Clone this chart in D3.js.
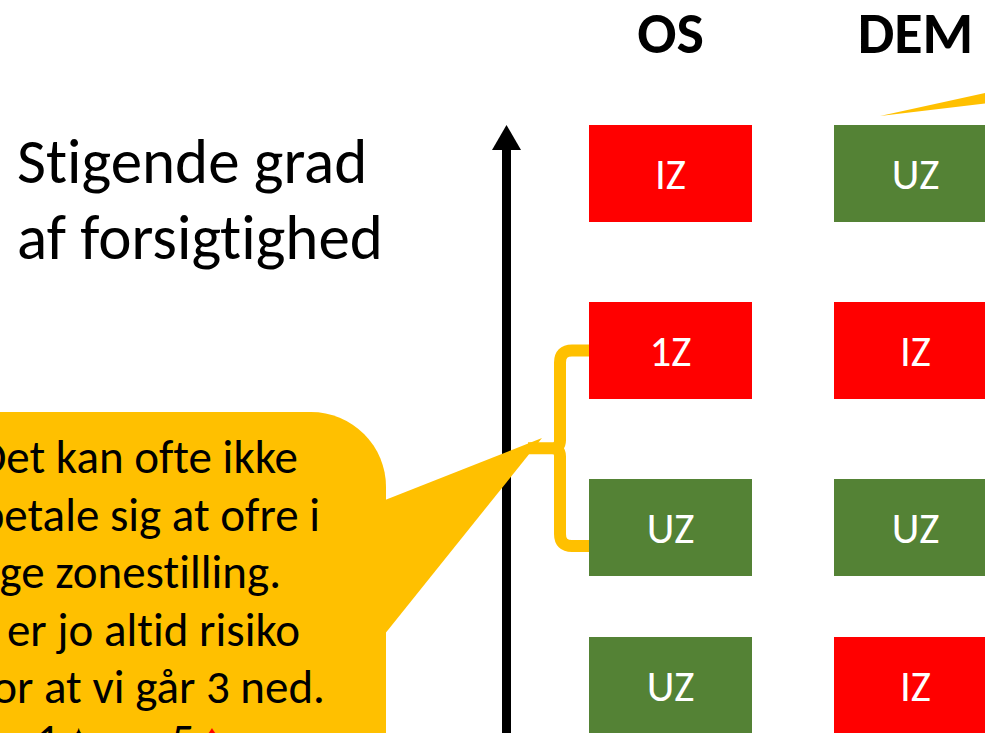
<!DOCTYPE html>
<html>
<head>
<meta charset="utf-8">
<script src="https://cdn.jsdelivr.net/npm/d3@7"></script>
<style>
  body { margin: 0; background: #fff; overflow: hidden; }
  svg { display: block; font-family: Carlito, Calibri, Lato, sans-serif; font-variant-ligatures: none; }
</style>
</head>
<body>
<div id="chart"></div>
<script>
// data
const columns = ['OS', 'DEM'];
const levels = [0, 1, 2, 3]; // rows, top = most careful
const osZones = ['IZ', '1Z', 'UZ', 'UZ'];
const demZones = ['UZ', 'IZ', 'UZ', 'IZ'];
const zoneKinds = ['IZ', '1Z', 'UZ'];
const titleLines = ['Stigende grad', 'af forsigtighed'];
const noteLines = ['Det kan ofte ikke', 'betale sig at ofre i', 'lige zonestilling.', 'Der er jo altid risiko', 'for at vi går 3 ned.'];
const noteLineEnds = [298, 320, 281, 300, 325];

const width = 985;
const height = 733;
const RED = '#ff0000';
const GREEN = '#548235';
const YELLOW = '#ffc000';

const $svg = d3.select('#chart').append('svg')
  .attr('width', width)
  .attr('height', height);

// scales
const scaleX = d3.scaleBand()
  .domain(columns)
  .range([589, 997])
  .paddingInner(0.3347)
  .paddingOuter(0);

const scaleY = d3.scaleLinear()
  .domain(levels)
  .range([125, 302, 479, 637]);

const boxH = 97;

const scaleColor = d3.scaleOrdinal()
  .domain(zoneKinds)
  .range([RED, RED, GREEN]);

// title on the left
$svg.append('g')
  .selectAll('text')
  .data(titleLines)
  .join('text')
  .attr('x', 17)
  .attr('y', (d, i) => 183 + i * 76)
  .attr('font-size', 63)
  .attr('fill', '#000')
  .text(d => d);

// up arrow
$svg.append('line')
  .attr('x1', 506.5).attr('x2', 506.5)
  .attr('y1', height + 5).attr('y2', 145)
  .attr('stroke', '#000')
  .attr('stroke-width', 9);
$svg.append('path')
  .attr('d', 'M506.5,125 L492,150 L521,150 Z')
  .attr('fill', '#000');

// bracket between row 2 and row 3 of OS
const yTop = scaleY(1) + boxH / 2;
const yBot = scaleY(2) + boxH * 0.69;
const yMid = (yTop + yBot) / 2;
const bx = 560;
const x0 = scaleX('OS');
$svg.append('path')
  .attr('d', `M${x0},${yTop} L${bx + 12},${yTop} Q${bx},${yTop} ${bx},${yTop + 12} L${bx},${yMid - 8} Q${bx},${yMid} ${bx - 8},${yMid} L528,${yMid}` +
    ` M${bx - 8},${yMid} Q${bx},${yMid} ${bx},${yMid + 8} L${bx},${yBot - 12} Q${bx},${yBot} ${bx + 12},${yBot} L${x0},${yBot}`)
  .attr('fill', 'none')
  .attr('stroke', YELLOW)
  .attr('stroke-width', 12);

// callout bubble
const $note = $svg.append('g').attr('class', 'note');
$note.append('rect')
  .attr('x', -120)
  .attr('y', 412)
  .attr('width', 506)
  .attr('height', 420)
  .attr('rx', 75)
  .attr('fill', YELLOW);
$note.append('path')
  .attr('d', 'M380,502 L542,438 L530,453 L380,640 Z')
  .attr('fill', YELLOW);

$note.selectAll('text.line')
  .data(noteLines)
  .join('text')
  .attr('class', 'line')
  .attr('x', (d, i) => noteLineEnds[i])
  .attr('y', (d, i) => 473 + i * 57.5)
  .attr('text-anchor', 'end')
  .attr('font-size', 47)
  .attr('fill', '#000')
  .text(d => d);

// last line, only its tops show
const lastLine = [
  { t: '1', x: 36, c: '#000' },
  { t: '♠', x: 66, c: '#000' },
  { t: '5', x: 171, c: '#000' },
  { t: '♦', x: 200, c: RED }
];
$note.selectAll('text.last')
  .data(lastLine)
  .join('text')
  .attr('class', 'last')
  .attr('x', d => d.x)
  .attr('y', 756)
  .attr('font-size', 47)
  .attr('fill', d => d.c)
  .text(d => d.t);

// pointer from an off-slide callout, top right
$svg.append('path')
  .attr('d', 'M880,116 L990,92 L990,103 Z')
  .attr('fill', YELLOW);

// column headers
$svg.append('g')
  .selectAll('text')
  .data(columns)
  .join('text')
  .attr('x', d => scaleX(d) + scaleX.bandwidth() / 2)
  .attr('y', 53)
  .attr('text-anchor', 'middle')
  .attr('font-size', 58)
  .attr('font-weight', 'bold')
  .attr('fill', '#000')
  .text(d => d);

// zone boxes
const cells = [];
columns.forEach(col => {
  const zones = col === 'OS' ? osZones : demZones;
  zones.forEach((z, i) => cells.push({ col, level: levels[i], zone: z }));
});

const $cells = $svg.append('g')
  .selectAll('g')
  .data(cells)
  .join('g')
  .attr('transform', d => `translate(${scaleX(d.col)},${scaleY(d.level)})`);

$cells.append('rect')
  .attr('width', scaleX.bandwidth())
  .attr('height', boxH)
  .attr('fill', d => scaleColor(d.zone));

$cells.append('text')
  .attr('x', scaleX.bandwidth() / 2)
  .attr('y', boxH / 2 + 15)
  .attr('text-anchor', 'middle')
  .attr('font-size', 43)
  .attr('fill', '#fff')
  .text(d => d.zone);
</script>
</body>
</html>
